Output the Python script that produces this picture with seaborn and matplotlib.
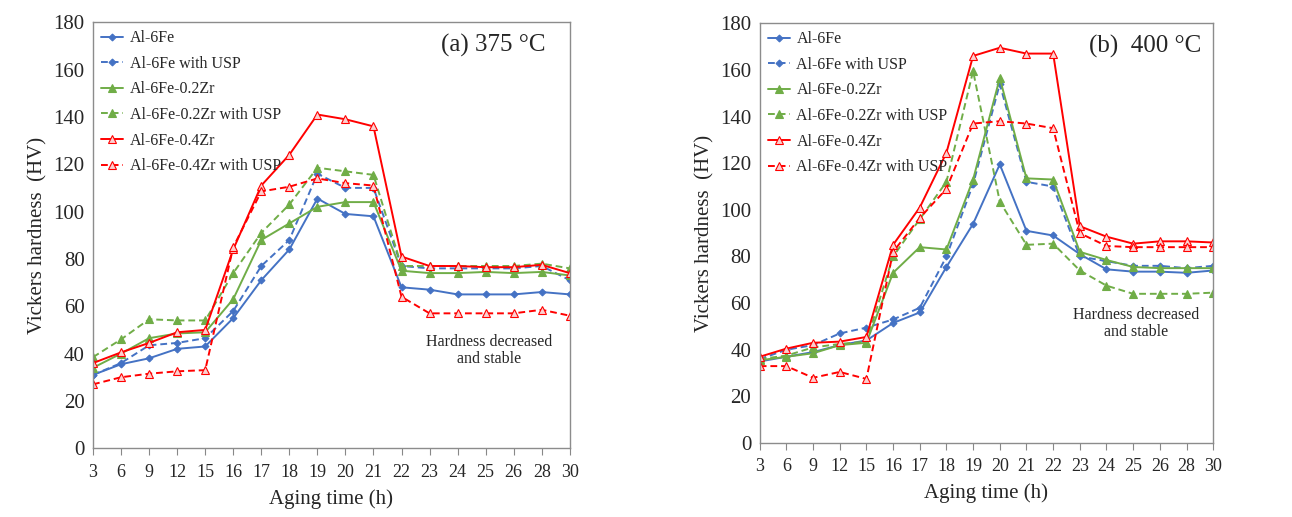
import numpy as np
import pandas as pd
import seaborn as sns
import matplotlib.pyplot as plt

# aging times (categorical axis, equally spaced)
hours = ["3", "6", "9", "12", "15", "16", "17", "18", "19", "20",
         "21", "22", "23", "24", "25", "26", "28", "30"]

series_names = ["Al-6Fe", "Al-6Fe with USP", "Al-6Fe-0.2Zr",
                "Al-6Fe-0.2Zr with USP", "Al-6Fe-0.4Zr", "Al-6Fe-0.4Zr with USP"]

# (a) 375 C
a_fe = [31, 35.5, 38, 42, 43, 55, 71, 84, 105.5, 99, 98, 68, 67, 65, 65, 65, 66, 65]
a_fe_usp = [31, 36, 43.5, 44.5, 46.5, 58, 77, 88, 116, 110, 110, 77, 76, 76, 76, 76, 77, 71]
a_zr2 = [34, 40, 46.5, 48.5, 49, 63, 88, 95, 102, 104, 104, 75, 74, 74, 74.5, 74, 74.5, 73]
a_zr2_usp = [38.5, 46, 54.5, 54, 54, 74, 91, 103, 118.5, 117, 115.5, 77, 77, 77, 77, 77, 78, 76]
a_zr4 = [36, 40.5, 44.5, 49, 50, 84, 111, 124, 141, 139, 136, 81, 77, 77, 76.5, 76.5, 77.5, 74]
a_zr4_usp = [27, 30, 31.5, 32.5, 33, 85, 108.5, 110.5, 114, 112, 111, 64, 57, 57, 57, 57, 58.5, 56]

# (b) 400 C
b_fe = [35, 37, 39, 42, 44, 51.5, 56, 75.5, 94, 119.5, 91, 89, 81, 74.5, 73.5, 73.5, 73, 74]
b_fe_usp = [36, 40, 42, 47, 49.5, 53, 58, 80, 111, 154, 112, 110, 80, 78, 76, 76, 75, 76]
b_zr2 = [35.5, 37, 38.5, 42, 43, 73, 84, 83, 113, 156.5, 113.5, 113, 82, 78.5, 75.5, 75, 75, 75]
b_zr2_usp = [36, 37.5, 41, 42.5, 43.5, 80, 96, 112, 159.5, 103.5, 85, 85.5, 74, 67.5, 64, 64, 64, 64.5]
b_zr4 = [37, 40.5, 43, 43.5, 45.5, 85, 101, 124.5, 166, 169.5, 167, 167, 93, 88.5, 85.5, 86.5, 86.5, 86]
b_zr4_usp = [33, 33, 28, 30.5, 27.5, 82, 96.5, 109, 137, 138, 137, 135, 90, 84.5, 84, 84, 84, 84]

BLUE = "#4472C4"
GREEN = "#70AD47"
RED = "#FF0000"
DASH = (0, (3.5, 2))

styles = [
    dict(color=BLUE, marker="D", markersize=3.5, linestyle="-", mfc=BLUE),
    dict(color=BLUE, marker="D", markersize=3.5, linestyle=DASH, mfc=BLUE),
    dict(color=GREEN, marker="^", markersize=5.5, linestyle="-", mfc=GREEN),
    dict(color=GREEN, marker="^", markersize=5.5, linestyle=DASH, mfc=GREEN),
    dict(color=RED, marker="^", markersize=6, linestyle="-", mfc="#fbd0d0"),
    dict(color=RED, marker="^", markersize=6, linestyle=DASH, mfc="#fbd0d0"),
]

sns.set_style("white")
plt.rcParams["font.family"] = ["Liberation Serif", "DejaVu Serif"]


def draw_panel(ax, data, title, title_x, note_y):
    for name, vals, st in zip(series_names, data, styles):
        sns.lineplot(x=hours, y=vals, ax=ax, sort=False, label=name,
                     color=st["color"], marker=st["marker"],
                     markersize=st["markersize"], linestyle=st["linestyle"],
                     markerfacecolor=st["mfc"], markeredgecolor=st["color"],
                     markeredgewidth=0.8, linewidth=1.4)
    ax.set_xlim(0, len(hours) - 1)
    ax.set_ylim(0, 180)
    ax.set_yticks(np.arange(0, 181, 20))
    ax.tick_params(axis="y", labelsize=15, length=0, pad=6)
    ax.tick_params(axis="x", labelsize=13, length=5, width=0.8,
                   color="#888888", direction="out", bottom=True, pad=6)
    for sp in ax.spines.values():
        sp.set_color("#8c8c8c")
        sp.set_linewidth(1.0)
    ax.set_xlabel("Aging time (h)", fontsize=15, labelpad=6)
    ax.set_ylabel("Vickers hardness  (HV)", fontsize=15, labelpad=4)
    ax.text(title_x, 0.945, title, transform=ax.transAxes, fontsize=18,
            ha="center", va="center")
    ax.text(0.83, note_y, "Hardness decreased\nand stable", transform=ax.transAxes,
            fontsize=11.5, ha="center", va="center", linespacing=1.1)
    ax.legend(loc="upper left", frameon=False, fontsize=11.5, handlelength=1.4,
              labelspacing=0.6, borderaxespad=0.2, handletextpad=0.4,
              borderpad=0.3)


fig = plt.figure(figsize=(12.92, 5.17), dpi=100)
ax1 = fig.add_axes([0.072, 0.133, 0.369, 0.824])
ax2 = fig.add_axes([0.588, 0.143, 0.351, 0.812])

draw_panel(ax1, [a_fe, a_fe_usp, a_zr2, a_zr2_usp, a_zr4, a_zr4_usp],
           "(a) 375 \u00b0C", 0.84, 0.23)
draw_panel(ax2, [b_fe, b_fe_usp, b_zr2, b_zr2_usp, b_zr4, b_zr4_usp],
           "(b)  400 \u00b0C", 0.85, 0.285)

fig.savefig("out.png", dpi=100)
